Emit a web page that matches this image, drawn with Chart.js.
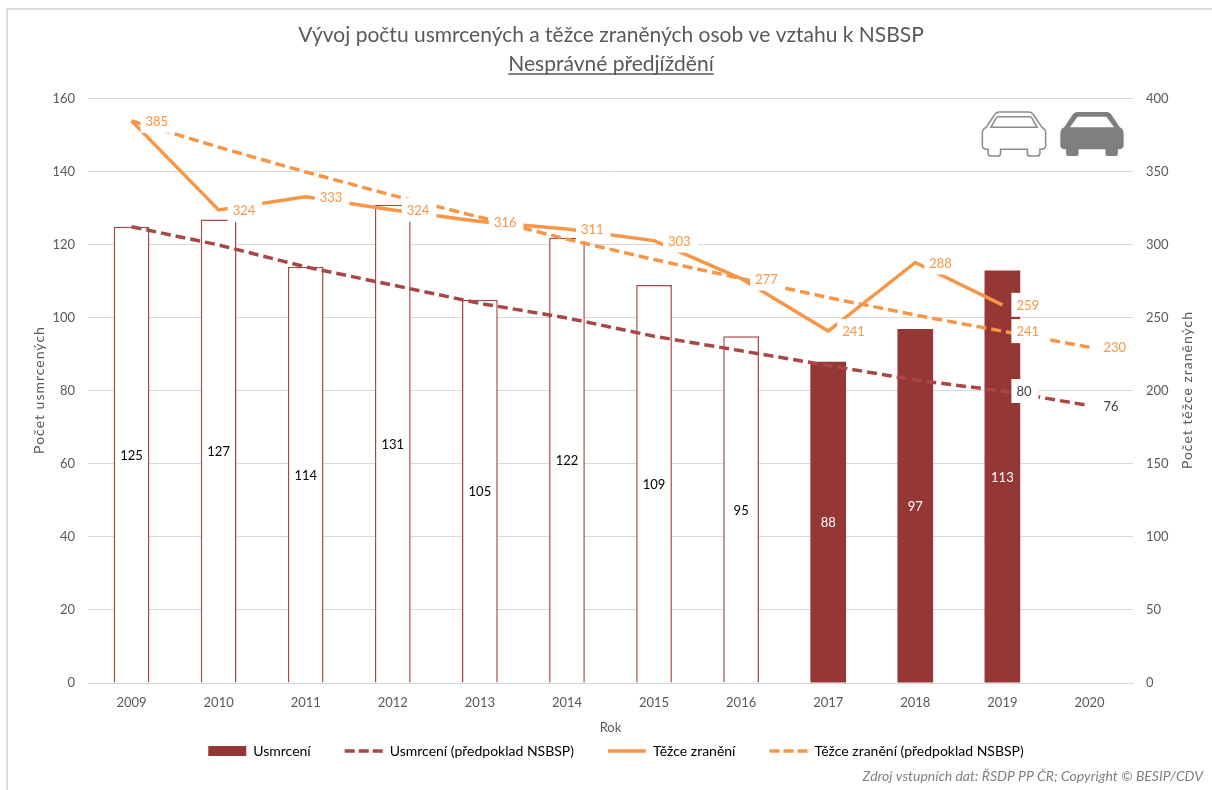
<!DOCTYPE html>
<html lang="cs">
<head>
    <meta charset="UTF-8">
    <title>Nesprávné předjíždění</title>
    <script src="https://cdn.jsdelivr.net/npm/chart.js@4/dist/chart.umd.min.js"></script>
    <style>
        html, body { margin: 0; padding: 0; background: #fff; }
        #wrap { position: relative; width: 1212px; height: 790px; overflow: hidden; }
        #frame { position: absolute; left: 6px; top: 8px; width: 1206px; height: 782px; border-left: 2px solid #dedede; border-top: 2px solid #dedede; box-sizing: border-box; }
        canvas { position: absolute; left: 0; top: 0; }
        .car { position: absolute; top: 110px; width: 66px; height: 47px; }
    </style>
</head>
<body>
<div id="wrap">
    <div id="frame"></div>
    <canvas id="chart" width="1212" height="790"></canvas>
    <svg class="car" style="left:981px" viewBox="-1 -1 68 49">
        <path d="M18 1H48Q52 1 54 5L62 17Q66 19 66 23V36Q66 39 62 40H60V44Q60 47 57 47H50Q47 47 47 44V40H19V44Q19 47 16 47H9Q6 47 6 44V40H4Q0 39 0 36V23Q0 19 4 17L12 5Q14 1 18 1Z" fill="#fff" stroke="#8c8c8c" stroke-width="1.6"/>
        <path d="M17 6H49Q51 6 52 8L57 17H9L14 8Q15 6 17 6Z" fill="#fff" stroke="#8c8c8c" stroke-width="1.6"/>
    </svg>
    <svg class="car" style="left:1059px" viewBox="-1 -1 68 49">
        <path d="M18 1H48Q52 1 54 5L62 17Q66 19 66 23V36Q66 39 62 40H60V44Q60 47 57 47H50Q47 47 47 44V40H19V44Q19 47 16 47H9Q6 47 6 44V40H4Q0 39 0 36V23Q0 19 4 17L12 5Q14 1 18 1Z" fill="#7f7f7f"/>
        <path d="M18 6H48L56 17H10Z" fill="#fff"/>
    </svg>
</div>
<script>
    const years = ['2009', '2010', '2011', '2012', '2013', '2014', '2015', '2016', '2017', '2018', '2019', '2020'];
    const killed = [125, 127, 114, 131, 105, 122, 109, 95, 88, 97, 113, null];
    const killedPlan = [125, 120, 114, 109, 104, 100, 95, 91, 87, 83, 80, 76];
    const injured = [385, 324, 333, 324, 316, 311, 303, 277, 241, 288, 259, null];
    const injuredPlan = [385, 367, 350, 334, 319, 304, 290, 277, 264, 252, 241, 230];
    const outlinedYears = ['2009', '2010', '2011', '2012', '2013', '2014', '2015', '2016'];
    const labelledPlanYears = ['2019', '2020'];
    const seriesNames = ['Usmrcení', 'Usmrcení (předpoklad NSBSP)', 'Těžce zranění', 'Těžce zranění (předpoklad NSBSP)'];

    const BROWN = '#953735';
    const BROWN_LINE = '#a84745';
    const ORANGE = '#f79646';
    const GREY = '#595959';
    const FONT = 'Lato, Carlito, sans-serif';
    const titleLines = ['Vývoj počtu usmrcených a těžce zraněných osob ve vztahu k NSBSP', 'Nesprávné předjíždění'];

    // labels sit on a white box right of the point, same as in the Excel original
    const valueLabels = {
        id: 'valueLabels',
        afterDatasetsDraw(chart) {
            const ctx = chart.ctx;
            ctx.save();
            ctx.font = '13px ' + FONT;
            ctx.textBaseline = 'middle';

            chart.getDatasetMeta(0).data.forEach((bar, i) => {
                if (killed[i] === null) return;
                ctx.textAlign = 'center';
                ctx.fillStyle = outlinedYears.includes(years[i]) ? '#000' : '#fff';
                ctx.fillText(killed[i], bar.x, (bar.y + bar.base) / 2 + 1);
            });

            const drawBox = (meta, values, color, filter) => {
                meta.data.forEach((pt, i) => {
                    if (values[i] === null || !filter(years[i])) return;
                    const text = String(values[i]);
                    const w = ctx.measureText(text).width;
                    ctx.fillStyle = '#fff';
                    ctx.fillRect(pt.x + 9, pt.y - 12, w + 12, 24);
                    ctx.textAlign = 'left';
                    ctx.fillStyle = color;
                    ctx.fillText(text, pt.x + 14, pt.y + 1);
                });
            };
            drawBox(chart.getDatasetMeta(1), killedPlan, '#404040', y => labelledPlanYears.includes(y));
            drawBox(chart.getDatasetMeta(3), injuredPlan, ORANGE, y => labelledPlanYears.includes(y));
            drawBox(chart.getDatasetMeta(2), injured, ORANGE, () => true);
            ctx.restore();
        }
    };

    const extras = {
        id: 'extras',
        afterLayout(chart) {
            // legend needs wide gaps between items but stays close under the axis
            chart.legend.left += 5;
            chart.legend.right += 5;
            chart.legend.top -= 26;
            chart.legend.bottom -= 26;
        },
        afterDraw(chart) {
            const ctx = chart.ctx;
            ctx.save();
            // underline of the second title line
            ctx.font = '21px ' + FONT;
            const w = ctx.measureText(titleLines[1]).width;
            ctx.strokeStyle = GREY;
            ctx.lineWidth = 1.5;
            ctx.beginPath();
            ctx.moveTo(611 - w / 2, 74);
            ctx.lineTo(611 + w / 2, 74);
            ctx.stroke();

            // both axis titles read bottom to top and are spaced out
            ctx.font = '14px ' + FONT;
            ctx.letterSpacing = '1px';
            ctx.fillStyle = GREY;
            ctx.textAlign = 'center';
            ctx.textBaseline = 'middle';
            [[39, 'Počet usmrcených'], [1187, 'Počet těžce zraněných']].forEach(([x, text]) => {
                ctx.save();
                ctx.translate(x, 390);
                ctx.rotate(-Math.PI / 2);
                ctx.fillText(text, 0, 0);
                ctx.restore();
            });
            ctx.letterSpacing = '0px';

            ctx.font = 'italic 14px ' + FONT;
            ctx.fillStyle = '#7f7f7f';
            ctx.textAlign = 'right';
            ctx.fillText('Zdroj vstupních dat: ŘSDP PP ČR; Copyright © BESIP/CDV', 1203, 776);
            ctx.restore();
        }
    };

    new Chart(document.getElementById('chart'), {
        type: 'bar',
        data: {
            labels: years,
            datasets: [
                {
                    label: seriesNames[0],
                    data: killed,
                    yAxisID: 'y',
                    order: 4,
                    barPercentage: 0.41,
                    categoryPercentage: 1,
                    backgroundColor: years.map(y => outlinedYears.includes(y) ? '#fff' : BROWN),
                    borderColor: BROWN_LINE,
                    borderWidth: years.map(y => outlinedYears.includes(y) ? 1.5 : 0)
                },
                {
                    type: 'line',
                    label: seriesNames[1],
                    data: killedPlan,
                    yAxisID: 'y',
                    order: 3,
                    borderColor: BROWN_LINE,
                    borderWidth: 3.5,
                    borderDash: [10, 5],
                    pointRadius: 0,
                    tension: 0
                },
                {
                    type: 'line',
                    label: seriesNames[2],
                    data: injured,
                    yAxisID: 'y2',
                    order: 1,
                    borderColor: ORANGE,
                    borderWidth: 3.5,
                    pointRadius: 0,
                    tension: 0
                },
                {
                    type: 'line',
                    label: seriesNames[3],
                    data: injuredPlan,
                    yAxisID: 'y2',
                    order: 2,
                    borderColor: ORANGE,
                    borderWidth: 3.5,
                    borderDash: [10, 5],
                    pointRadius: 0,
                    tension: 0
                }
            ]
        },
        options: {
            responsive: false,
            animation: false,
            layout: { padding: { left: 10, right: 0, top: 0, bottom: -4 } },
            scales: {
                x: {
                    afterFit: s => { s.height = 53; },
                    grid: { display: false, drawTicks: false },
                    border: { color: '#d9d9d9' },
                    ticks: { color: GREY, font: { family: FONT, size: 13 }, padding: 12 },
                    title: { display: true, text: 'Rok', color: GREY, font: { family: FONT, size: 13 }, padding: { top: 11, bottom: 0 } }
                },
                y: {
                    position: 'left',
                    min: 0,
                    max: 160,
                    afterFit: s => { s.width = 78; },
                    grid: { color: '#d9d9d9', drawTicks: false },
                    border: { display: false },
                    ticks: { stepSize: 20, color: GREY, font: { family: FONT, size: 13 }, padding: 13 }
                },
                y2: {
                    position: 'right',
                    min: 0,
                    max: 400,
                    afterFit: s => { s.width = 79; },
                    grid: { display: false, drawTicks: false },
                    border: { display: false },
                    ticks: { stepSize: 50, color: GREY, font: { family: FONT, size: 13 }, padding: 13 }
                }
            },
            plugins: {
                tooltip: { enabled: false },
                title: {
                    display: true,
                    text: titleLines,
                    color: GREY,
                    font: { family: FONT, size: 21, weight: 'normal', lineHeight: 1.38 },
                    padding: { top: 21, bottom: 20 }
                },
                legend: {
                    position: 'bottom',
                    labels: {
                        color: GREY,
                        font: { family: FONT, size: 14 },
                        usePointStyle: true,
                        pointStyleWidth: 38,
                        boxHeight: 10,
                        padding: 34,
                        generateLabels: () => [
                            { text: seriesNames[0], fillStyle: BROWN, strokeStyle: BROWN, lineWidth: 0, pointStyle: 'rect', datasetIndex: 0 },
                            { text: seriesNames[1], strokeStyle: BROWN_LINE, lineWidth: 3.5, lineDash: [10, 4], pointStyle: 'line', datasetIndex: 1 },
                            { text: seriesNames[2], strokeStyle: ORANGE, lineWidth: 3.5, pointStyle: 'line', datasetIndex: 2 },
                            { text: seriesNames[3], strokeStyle: ORANGE, lineWidth: 3.5, lineDash: [10, 4], pointStyle: 'line', datasetIndex: 3 }
                        ]
                    }
                }
            }
        },
        plugins: [valueLabels, extras]
    });
</script>
</body>
</html>
